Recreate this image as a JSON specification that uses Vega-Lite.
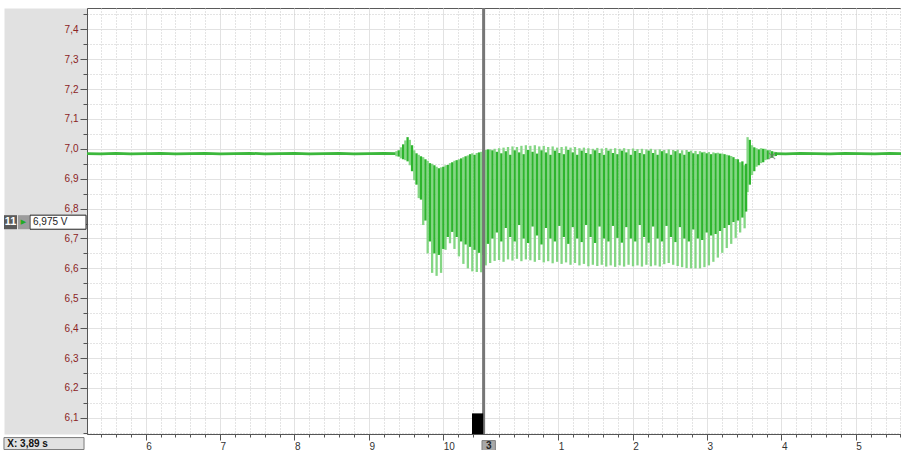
{
  "$schema": "https://vega.github.io/schema/vega-lite/v6.json",
  "width": 814,
  "height": 426,
  "autosize": {"type": "none"},
  "padding": {"left": 87, "top": 8, "right": 0, "bottom": 16},
  "background": "white",
  "config": {
    "view": {"stroke": "#5a5a5a", "strokeWidth": 1},
    "font": "Liberation Sans",
    "axis": {"labelFont": "Liberation Sans", "title": null}
  },
  "datasets": {
    "flat": [
      {"t": 5.211, "v": 6.984, "s": 1}, {"t": 5.4, "v": 6.983, "s": 1}, {"t": 5.6, "v": 6.985, "s": 1}, {"t": 5.8, "v": 6.983, "s": 1},
      {"t": 6.0, "v": 6.984, "s": 1}, {"t": 6.2, "v": 6.985, "s": 1}, {"t": 6.4, "v": 6.983, "s": 1}, {"t": 6.6, "v": 6.984, "s": 1},
      {"t": 6.8, "v": 6.985, "s": 1}, {"t": 7.0, "v": 6.983, "s": 1}, {"t": 7.2, "v": 6.984, "s": 1}, {"t": 7.4, "v": 6.985, "s": 1},
      {"t": 7.6, "v": 6.983, "s": 1}, {"t": 7.8, "v": 6.984, "s": 1}, {"t": 8.0, "v": 6.985, "s": 1}, {"t": 8.2, "v": 6.983, "s": 1},
      {"t": 8.4, "v": 6.984, "s": 1}, {"t": 8.6, "v": 6.985, "s": 1}, {"t": 8.8, "v": 6.983, "s": 1}, {"t": 9.0, "v": 6.984, "s": 1},
      {"t": 9.2, "v": 6.985, "s": 1}, {"t": 9.37, "v": 6.984, "s": 1},
      {"t": 14.45, "v": 6.984, "s": 2}, {"t": 14.6, "v": 6.983, "s": 2}, {"t": 14.8, "v": 6.985, "s": 2}, {"t": 15.0, "v": 6.984, "s": 2},
      {"t": 15.2, "v": 6.983, "s": 2}, {"t": 15.4, "v": 6.985, "s": 2}, {"t": 15.6, "v": 6.984, "s": 2}, {"t": 15.8, "v": 6.983, "s": 2},
      {"t": 16.0, "v": 6.985, "s": 2}, {"t": 16.152, "v": 6.984, "s": 2}
    ],
    "osc": [
      {"t": 9.37, "lo": 6.975, "hi": 6.992, "td": 9.40, "dlo": 6.974, "dhi": 6.995},
      {"t": 9.43, "lo": 6.968, "hi": 7.005, "td": 9.46, "dlo": 6.965, "dhi": 7.015},
      {"t": 9.49, "lo": 6.962, "hi": 7.028, "td": 9.52, "dlo": 6.958, "dhi": 7.039},
      {"t": 9.55, "lo": 6.945, "hi": 7.030, "td": 9.58, "dlo": 6.925, "dhi": 7.012},
      {"t": 9.61, "lo": 6.895, "hi": 6.995, "td": 9.64, "dlo": 6.880, "dhi": 6.985},
      {"t": 9.67, "lo": 6.835, "hi": 6.980, "td": 9.70, "dlo": 6.830, "dhi": 6.975},
      {"t": 9.73, "lo": 6.745, "hi": 6.972, "td": 9.76, "dlo": 6.760, "dhi": 6.965},
      {"t": 9.79, "lo": 6.650, "hi": 6.960, "td": 9.82, "dlo": 6.690, "dhi": 6.952},
      {"t": 9.85, "lo": 6.585, "hi": 6.950, "td": 9.88, "dlo": 6.650, "dhi": 6.945},
      {"t": 9.91, "lo": 6.575, "hi": 6.940, "td": 9.94, "dlo": 6.645, "dhi": 6.935},
      {"t": 9.97, "lo": 6.585, "hi": 6.938, "td": 10.00, "dlo": 6.665, "dhi": 6.940},
      {"t": 10.03, "lo": 6.662, "hi": 6.945, "td": 10.06, "dlo": 6.705, "dhi": 6.946},
      {"t": 10.09, "lo": 6.684, "hi": 6.952, "td": 10.12, "dlo": 6.722, "dhi": 6.955},
      {"t": 10.15, "lo": 6.665, "hi": 6.960, "td": 10.18, "dlo": 6.705, "dhi": 6.962},
      {"t": 10.21, "lo": 6.640, "hi": 6.965, "td": 10.24, "dlo": 6.690, "dhi": 6.968},
      {"t": 10.27, "lo": 6.615, "hi": 6.972, "td": 10.30, "dlo": 6.680, "dhi": 6.975},
      {"t": 10.33, "lo": 6.600, "hi": 6.978, "td": 10.36, "dlo": 6.672, "dhi": 6.982},
      {"t": 10.39, "lo": 6.590, "hi": 6.985, "td": 10.42, "dlo": 6.662, "dhi": 6.980},
      {"t": 10.45, "lo": 6.588, "hi": 6.986, "td": 10.48, "dlo": 6.652, "dhi": 6.988},
      {"t": 10.51, "lo": 6.587, "hi": 6.990, "td": 10.54, "dlo": 6.645, "dhi": 6.995},
      {"t": 10.57, "lo": 6.610, "hi": 6.996, "td": 10.60, "dlo": 6.682, "dhi": 6.998},
      {"t": 10.63, "lo": 6.618, "hi": 6.998, "td": 10.66, "dlo": 6.700, "dhi": 6.995},
      {"t": 10.69, "lo": 6.625, "hi": 7.000, "td": 10.72, "dlo": 6.720, "dhi": 6.990},
      {"t": 10.75, "lo": 6.628, "hi": 7.002, "td": 10.78, "dlo": 6.690, "dhi": 6.985},
      {"t": 10.81, "lo": 6.622, "hi": 7.004, "td": 10.84, "dlo": 6.735, "dhi": 6.992},
      {"t": 10.87, "lo": 6.630, "hi": 7.006, "td": 10.90, "dlo": 6.705, "dhi": 6.980},
      {"t": 10.93, "lo": 6.626, "hi": 7.008, "td": 10.96, "dlo": 6.690, "dhi": 6.995},
      {"t": 10.99, "lo": 6.632, "hi": 7.006, "td": 11.02, "dlo": 6.745, "dhi": 6.988},
      {"t": 11.05, "lo": 6.624, "hi": 7.010, "td": 11.08, "dlo": 6.700, "dhi": 6.982},
      {"t": 11.11, "lo": 6.630, "hi": 7.012, "td": 11.14, "dlo": 6.685, "dhi": 6.996},
      {"t": 11.17, "lo": 6.627, "hi": 7.010, "td": 11.20, "dlo": 6.740, "dhi": 6.990},
      {"t": 11.23, "lo": 6.622, "hi": 7.012, "td": 11.26, "dlo": 6.710, "dhi": 6.984},
      {"t": 11.29, "lo": 6.628, "hi": 7.008, "td": 11.32, "dlo": 6.680, "dhi": 6.995},
      {"t": 11.35, "lo": 6.620, "hi": 7.010, "td": 11.38, "dlo": 6.735, "dhi": 6.988},
      {"t": 11.41, "lo": 6.624, "hi": 7.006, "td": 11.44, "dlo": 6.700, "dhi": 6.980},
      {"t": 11.47, "lo": 6.617, "hi": 7.008, "td": 11.50, "dlo": 6.690, "dhi": 6.994},
      {"t": 11.53, "lo": 6.622, "hi": 7.004, "td": 11.56, "dlo": 6.742, "dhi": 6.986},
      {"t": 11.59, "lo": 6.615, "hi": 7.006, "td": 11.62, "dlo": 6.705, "dhi": 6.982},
      {"t": 11.65, "lo": 6.620, "hi": 7.008, "td": 11.68, "dlo": 6.682, "dhi": 6.996},
      {"t": 11.71, "lo": 6.612, "hi": 7.004, "td": 11.74, "dlo": 6.738, "dhi": 6.988},
      {"t": 11.77, "lo": 6.618, "hi": 7.006, "td": 11.80, "dlo": 6.700, "dhi": 6.980},
      {"t": 11.83, "lo": 6.610, "hi": 7.002, "td": 11.86, "dlo": 6.688, "dhi": 6.994},
      {"t": 11.89, "lo": 6.615, "hi": 7.004, "td": 11.92, "dlo": 6.745, "dhi": 6.986},
      {"t": 11.95, "lo": 6.607, "hi": 7.002, "td": 11.98, "dlo": 6.705, "dhi": 6.982},
      {"t": 12.01, "lo": 6.612, "hi": 7.000, "td": 12.04, "dlo": 6.685, "dhi": 6.995},
      {"t": 12.07, "lo": 6.608, "hi": 7.003, "td": 12.10, "dlo": 6.740, "dhi": 6.986},
      {"t": 12.13, "lo": 6.612, "hi": 7.001, "td": 12.16, "dlo": 6.700, "dhi": 6.980},
      {"t": 12.19, "lo": 6.606, "hi": 7.003, "td": 12.22, "dlo": 6.690, "dhi": 6.994},
      {"t": 12.25, "lo": 6.610, "hi": 7.000, "td": 12.28, "dlo": 6.742, "dhi": 6.986},
      {"t": 12.31, "lo": 6.605, "hi": 7.002, "td": 12.34, "dlo": 6.702, "dhi": 6.982},
      {"t": 12.37, "lo": 6.610, "hi": 7.000, "td": 12.40, "dlo": 6.686, "dhi": 6.994},
      {"t": 12.43, "lo": 6.606, "hi": 7.002, "td": 12.46, "dlo": 6.738, "dhi": 6.988},
      {"t": 12.49, "lo": 6.612, "hi": 6.999, "td": 12.52, "dlo": 6.700, "dhi": 6.980},
      {"t": 12.55, "lo": 6.607, "hi": 7.001, "td": 12.58, "dlo": 6.690, "dhi": 6.993},
      {"t": 12.61, "lo": 6.610, "hi": 6.999, "td": 12.64, "dlo": 6.745, "dhi": 6.986},
      {"t": 12.67, "lo": 6.606, "hi": 7.000, "td": 12.70, "dlo": 6.705, "dhi": 6.982},
      {"t": 12.73, "lo": 6.612, "hi": 6.998, "td": 12.76, "dlo": 6.686, "dhi": 6.994},
      {"t": 12.79, "lo": 6.607, "hi": 7.000, "td": 12.82, "dlo": 6.740, "dhi": 6.986},
      {"t": 12.85, "lo": 6.610, "hi": 6.997, "td": 12.88, "dlo": 6.700, "dhi": 6.980},
      {"t": 12.91, "lo": 6.606, "hi": 6.998, "td": 12.94, "dlo": 6.690, "dhi": 6.992},
      {"t": 12.97, "lo": 6.614, "hi": 6.996, "td": 13.00, "dlo": 6.742, "dhi": 6.985},
      {"t": 13.03, "lo": 6.618, "hi": 6.998, "td": 13.06, "dlo": 6.705, "dhi": 6.980},
      {"t": 13.09, "lo": 6.612, "hi": 6.996, "td": 13.12, "dlo": 6.688, "dhi": 6.992},
      {"t": 13.15, "lo": 6.608, "hi": 6.997, "td": 13.18, "dlo": 6.738, "dhi": 6.985},
      {"t": 13.21, "lo": 6.604, "hi": 6.995, "td": 13.24, "dlo": 6.700, "dhi": 6.980},
      {"t": 13.27, "lo": 6.601, "hi": 6.996, "td": 13.30, "dlo": 6.690, "dhi": 6.990},
      {"t": 13.33, "lo": 6.600, "hi": 6.994, "td": 13.36, "dlo": 6.730, "dhi": 6.985},
      {"t": 13.39, "lo": 6.600, "hi": 6.993, "td": 13.42, "dlo": 6.700, "dhi": 6.982},
      {"t": 13.45, "lo": 6.600, "hi": 6.992, "td": 13.48, "dlo": 6.695, "dhi": 6.988},
      {"t": 13.51, "lo": 6.604, "hi": 6.990, "td": 13.54, "dlo": 6.720, "dhi": 6.985},
      {"t": 13.57, "lo": 6.610, "hi": 6.989, "td": 13.60, "dlo": 6.710, "dhi": 6.982},
      {"t": 13.63, "lo": 6.622, "hi": 6.988, "td": 13.66, "dlo": 6.715, "dhi": 6.985},
      {"t": 13.69, "lo": 6.636, "hi": 6.987, "td": 13.72, "dlo": 6.725, "dhi": 6.984},
      {"t": 13.75, "lo": 6.652, "hi": 6.984, "td": 13.78, "dlo": 6.735, "dhi": 6.982},
      {"t": 13.81, "lo": 6.668, "hi": 6.980, "td": 13.84, "dlo": 6.745, "dhi": 6.978},
      {"t": 13.87, "lo": 6.682, "hi": 6.976, "td": 13.90, "dlo": 6.755, "dhi": 6.972},
      {"t": 13.93, "lo": 6.702, "hi": 6.966, "td": 13.96, "dlo": 6.760, "dhi": 6.965},
      {"t": 13.99, "lo": 6.720, "hi": 6.955, "td": 14.02, "dlo": 6.770, "dhi": 6.958},
      {"t": 14.05, "lo": 6.734, "hi": 6.945, "td": 14.07, "dlo": 6.790, "dhi": 6.950},
      {"t": 14.09, "lo": 6.855, "hi": 7.039, "td": 14.12, "dlo": 6.880, "dhi": 7.030},
      {"t": 14.15, "lo": 6.912, "hi": 7.012, "td": 14.18, "dlo": 6.925, "dhi": 7.005},
      {"t": 14.21, "lo": 6.940, "hi": 7.002, "td": 14.24, "dlo": 6.945, "dhi": 6.998},
      {"t": 14.27, "lo": 6.952, "hi": 7.002, "td": 14.30, "dlo": 6.955, "dhi": 7.000},
      {"t": 14.33, "lo": 6.962, "hi": 7.000, "td": 14.36, "dlo": 6.965, "dhi": 6.995},
      {"t": 14.39, "lo": 6.970, "hi": 6.996, "td": 14.42, "dlo": 6.970, "dhi": 6.992},
      {"t": 14.45, "lo": 6.975, "hi": 6.990, "td": 14.47, "dlo": 6.976, "dhi": 6.988}
    ]
  },
  "layer": [
    {
      "data": {"name": "flat"},
      "mark": {"type": "line", "color": "#3cb83c", "strokeWidth": 2.8},
      "encoding": {
        "x": {"field": "t", "type": "quantitative",
              "scale": {"domain": [5.211, 16.152], "nice": false, "zero": false},
              "axis": {"orient": "bottom", "title": null, "labels": false, "domain": false,
                       "tickSize": 3, "tickColor": "#555",
                       "values": [5.4,5.6,5.8,6.2,6.4,6.6,6.8,7.2,7.4,7.6,7.8,8.2,8.4,8.6,8.8,9.2,9.4,9.6,9.8,10.2,10.4,10.745,10.945,11.145,11.345,11.745,11.945,12.145,12.345,12.745,12.945,13.145,13.345,13.745,13.945,14.145,14.345,14.745,14.945,15.145,15.345,15.745,15.945,16.145],
                       "grid": true, "gridColor": "#c8c8c8", "gridDash": [1, 2]}},
        "y": {"field": "v", "type": "quantitative",
              "scale": {"domain": [6.046, 7.471], "nice": false, "zero": false},
              "axis": {"orient": "left", "title": null, "offset": 41.5, "domain": true, "domainWidth": 83,
                       "domainColor": "#e1e1e1", "ticks": false, "labels": false, "grid": false}},
        "detail": {"field": "s"}
      }
    },
    {
      "data": {"name": "osc"},
      "mark": {"type": "rule", "color": "#84d684", "strokeWidth": 2.3},
      "encoding": {
        "x": {"field": "t", "type": "quantitative",
              "axis": {"orient": "bottom", "title": null, "values": [6,7,8,9,10,11.545,12.545,13.545,14.545,15.545],
                       "labelExpr": "datum.value < 10.5 ? format(datum.value, 'd') : format(datum.value - 10.545, '.0f')",
                       "labelAlign": "left", "labelBaseline": "top", "labelPadding": 1, "labelFontSize": 10, "labelColor": "#333",
                       "labelDx": -1,
                       "tickSize": 6, "tickColor": "#555", "domain": true, "domainColor": "#555",
                       "grid": true, "gridColor": "#e2e2e2"}},
        "y": {"field": "lo", "type": "quantitative",
              "axis": {"orient": "left", "title": null, "labels": false, "domain": false,
                       "values": [6.05,6.15,6.25,6.35,6.45,6.55,6.65,6.75,6.85,6.95,7.05,7.15,7.25,7.35,7.45],
                       "tickSize": 4, "tickColor": "#555", "grid": true, "gridColor": "#c8c8c8", "gridDash": [1, 2]}},
        "y2": {"field": "hi"}
      }
    },
    {
      "data": {"name": "osc"},
      "mark": {"type": "rule", "color": "#2db52d", "strokeWidth": 2.3},
      "encoding": {
        "x": {"field": "td", "type": "quantitative", "axis": null},
        "y": {"field": "dlo", "type": "quantitative",
              "axis": {"orient": "left", "title": null, "values": [6.1,6.2,6.3,6.4,6.5,6.6,6.7,6.8,6.9,7.0,7.1,7.2,7.3,7.4],
                       "format": ".1f", "labelExpr": "replace(datum.label, '.', ',')",
                       "labelColor": "#8b2323", "labelFontSize": 10, "labelPadding": 2,
                       "tickSize": 7, "tickColor": "#555", "domain": true, "domainColor": "#555",
                       "grid": true, "gridColor": "#e2e2e2"}},
        "y2": {"field": "dhi"}
      }
    },
    {
      "data": {"values": [{}]},
      "mark": {"type": "rule", "color": "#767676", "strokeWidth": 3},
      "encoding": {"x": {"datum": 10.542, "type": "quantitative", "axis": null}}
    },
    {
      "data": {"values": [{}]},
      "mark": {"type": "rect", "color": "#000000"},
      "encoding": {
        "x": {"datum": 10.386, "type": "quantitative", "axis": null}, "x2": {"datum": 10.536},
        "y": {"datum": 6.115, "type": "quantitative", "axis": null}, "y2": {"datum": 6.046}
      }
    },
    {
      "data": {"values": [{}]},
      "mark": {"type": "rect", "color": "#a8a8a8", "stroke": "#808080", "strokeWidth": 1},
      "encoding": {
        "x": {"datum": 10.52, "type": "quantitative", "axis": null}, "x2": {"datum": 10.70},
        "y": {"datum": 6.024, "type": "quantitative", "axis": null}, "y2": {"datum": 5.99}
      }
    },
    {
      "data": {"values": [{}]},
      "mark": {"type": "text", "text": "3", "fontSize": 10, "fontWeight": "bold", "color": "#222", "align": "center", "baseline": "middle"},
      "encoding": {
        "x": {"datum": 10.61, "type": "quantitative", "axis": null},
        "y": {"datum": 6.007, "type": "quantitative", "axis": null}
      }
    },
    {
      "data": {"values": [{}]},
      "mark": {"type": "rect", "color": "#e1e1e1", "stroke": "#7a7a7a", "strokeWidth": 1},
      "encoding": {
        "x": {"datum": 4.095, "type": "quantitative", "axis": null}, "x2": {"datum": 5.171},
        "y": {"datum": 6.034, "type": "quantitative", "axis": null}, "y2": {"datum": 5.994}
      }
    },
    {
      "data": {"values": [{}]},
      "mark": {"type": "text", "text": "X: 3,89 s", "fontSize": 10, "fontWeight": "bold", "color": "#111", "align": "left", "baseline": "middle"},
      "encoding": {
        "x": {"datum": 4.14, "type": "quantitative", "axis": null},
        "y": {"datum": 6.014, "type": "quantitative", "axis": null}
      }
    },
    {
      "data": {"values": [{}]},
      "mark": {"type": "rect", "color": "#5a5a5a"},
      "encoding": {
        "x": {"datum": 4.095, "type": "quantitative", "axis": null}, "x2": {"datum": 4.27},
        "y": {"datum": 6.778, "type": "quantitative", "axis": null}, "y2": {"datum": 6.731}
      }
    },
    {
      "data": {"values": [{}]},
      "mark": {"type": "rect", "color": "#9c9c9c"},
      "encoding": {
        "x": {"datum": 4.284, "type": "quantitative", "axis": null}, "x2": {"datum": 4.432},
        "y": {"datum": 6.778, "type": "quantitative", "axis": null}, "y2": {"datum": 6.731}
      }
    },
    {
      "data": {"values": [{}]},
      "mark": {"type": "rect", "color": "#ffffff", "stroke": "#222", "strokeWidth": 1},
      "encoding": {
        "x": {"datum": 4.445, "type": "quantitative", "axis": null}, "x2": {"datum": 5.198},
        "y": {"datum": 6.778, "type": "quantitative", "axis": null}, "y2": {"datum": 6.731}
      }
    },
    {
      "data": {"values": [{}]},
      "mark": {"type": "text", "text": "11", "fontSize": 11, "fontWeight": "bold", "color": "#ffffff", "align": "center", "baseline": "middle"},
      "encoding": {
        "x": {"datum": 4.183, "type": "quantitative", "axis": null},
        "y": {"datum": 6.754, "type": "quantitative", "axis": null}
      }
    },
    {
      "data": {"values": [{}]},
      "mark": {"type": "text", "text": "▶", "fontSize": 7, "font": "DejaVu Sans", "color": "#22aa22", "align": "center", "baseline": "middle"},
      "encoding": {
        "x": {"datum": 4.358, "type": "quantitative", "axis": null},
        "y": {"datum": 6.754, "type": "quantitative", "axis": null}
      }
    },
    {
      "data": {"values": [{}]},
      "mark": {"type": "text", "text": "6,975 V", "fontSize": 10, "color": "#222", "align": "left", "baseline": "middle"},
      "encoding": {
        "x": {"datum": 4.485, "type": "quantitative", "axis": null},
        "y": {"datum": 6.754, "type": "quantitative", "axis": null}
      }
    },
    {
      "data": {"values": [{}]},
      "mark": {"type": "point", "shape": "M-1,-1L1,1M-1,1L1,-1", "filled": false, "stroke": "#707070", "strokeWidth": 1.2, "size": 40},
      "encoding": {
        "x": {"datum": 14.418, "type": "quantitative", "axis": null},
        "y": {"datum": 6.976, "type": "quantitative", "axis": null}
      }
    }
  ],
  "resolve": {"axis": {"x": "independent", "y": "independent"}}
}
